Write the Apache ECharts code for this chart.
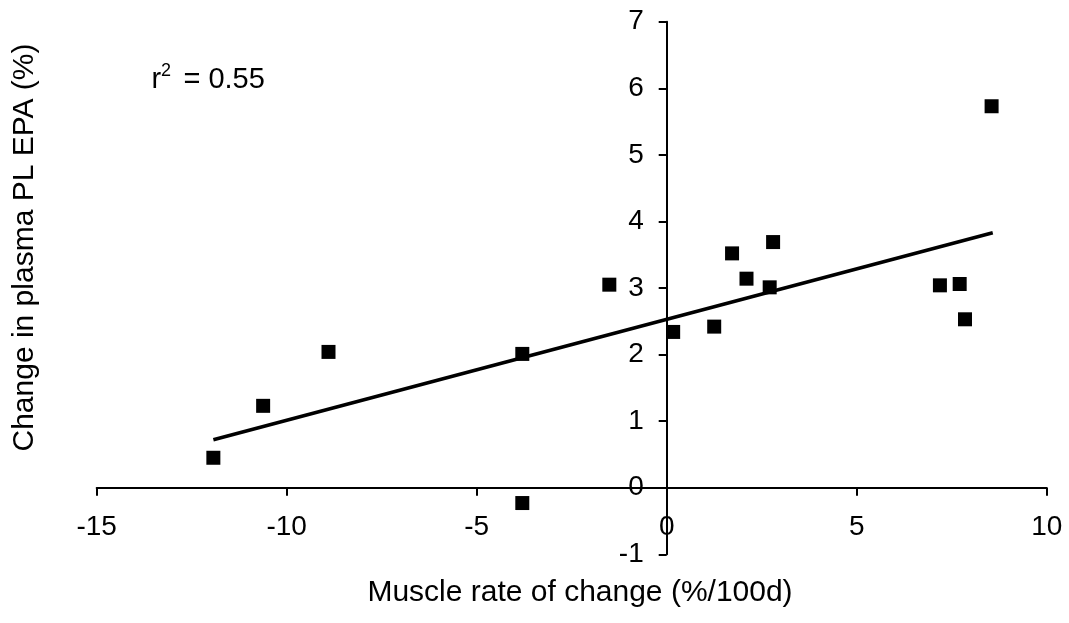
<!DOCTYPE html>
<html>
<head>
<meta charset="utf-8">
<script src="https://cdn.jsdelivr.net/npm/echarts@6/dist/echarts.min.js"></script>
<style>
html,body{margin:0;padding:0;background:#fff;}
#chart{width:1069px;height:623px;}
</style>
</head>
<body>
<div id="chart"></div>
<script>
// Data
const muscleRate = [-11.93, -10.62, -8.90, -3.80, -3.80, -1.51, 0.17, 1.25, 1.72, 2.10, 2.80, 2.71, 8.55, 7.19, 7.71, 7.85];
const plasmaEPA  = [0.45, 1.23, 2.04, 2.01, -0.23, 3.05, 2.34, 2.42, 3.52, 3.14, 3.69, 3.01, 5.73, 3.04, 3.06, 2.53];
const trendX = [-11.93, 8.58];
const trendY = [0.72, 3.83];
const xTicks = {min: -15, max: 10, step: 5};
const yTicks = {min: -1, max: 7, step: 1};
const xTitle = 'Muscle rate of change (%/100d)';
const yTitle = 'Change in plasma PL EPA (%)';
const r2Text = '= 0.55';

const FONT = '"Liberation Sans", Arial, sans-serif';
const points = muscleRate.map((x, i) => [x, plasmaEPA[i]]);
const trend = trendX.map((x, i) => [x, trendY[i]]);

const W = 1069, H = 623;
const grid = {left: 96.7, right: 22.3, top: 21.7, bottom: 68.7};
const plotW = W - grid.left - grid.right;
const plotH = H - grid.top - grid.bottom;
// place axes lines at the zero of the other axis (via offset)
const yAxisOffset = -plotW * (0 - xTicks.min) / (xTicks.max - xTicks.min);
const xAxisOffset = -plotH * (0 - yTicks.min) / (yTicks.max - yTicks.min);

const chart = echarts.init(document.getElementById('chart'), null, {renderer: 'canvas'});
chart.setOption({
  animation: false,
  backgroundColor: '#fff',
  grid: Object.assign({containLabel: false, outerBoundsMode: 'none'}, grid),
  xAxis: {
    type: 'value', min: xTicks.min, max: xTicks.max, interval: xTicks.step,
    position: 'bottom', offset: xAxisOffset,
    axisLine: {show: true, onZero: false, lineStyle: {color: '#000', width: 2}},
    axisTick: {show: true, inside: false, length: 8, lineStyle: {color: '#000', width: 2}},
    axisLabel: {color: '#000', fontSize: 28, fontFamily: FONT, margin: 26},
    splitLine: {show: false}
  },
  yAxis: {
    type: 'value', min: yTicks.min, max: yTicks.max, interval: yTicks.step,
    position: 'left', offset: yAxisOffset,
    axisLine: {show: true, onZero: false, lineStyle: {color: '#000', width: 2}},
    axisTick: {show: true, inside: false, length: 8, lineStyle: {color: '#000', width: 2}},
    axisLabel: {color: '#000', fontSize: 28, fontFamily: FONT, margin: 23},
    splitLine: {show: false}
  },
  series: [
    {
      type: 'line', data: trend, symbol: 'none', silent: true,
      lineStyle: {color: '#000', width: 3.5}, z: 3
    },
    {
      type: 'scatter', data: points, symbol: 'rect', symbolSize: 14,
      itemStyle: {color: '#000', opacity: 1}, z: 4
    }
  ],
  graphic: [
    {type: 'text', x: 580, y: 593, style: {text: xTitle, font: '30px ' + FONT, fill: '#000', align: 'center', verticalAlign: 'middle'}},
    {type: 'text', x: 25, y: 247.5, rotation: Math.PI / 2, style: {text: yTitle, font: '30px ' + FONT, fill: '#000', align: 'center', verticalAlign: 'middle'}},
    {type: 'text', x: 151.5, y: 80, style: {text: 'r', font: '29px ' + FONT, fill: '#000', align: 'left', verticalAlign: 'middle'}},
    {type: 'text', x: 161, y: 71, style: {text: '2', font: '18px ' + FONT, fill: '#000', align: 'left', verticalAlign: 'middle'}},
    {type: 'text', x: 183.4, y: 80, style: {text: r2Text, font: '29px ' + FONT, fill: '#000', align: 'left', verticalAlign: 'middle'}}
  ]
});
</script>
</body>
</html>
